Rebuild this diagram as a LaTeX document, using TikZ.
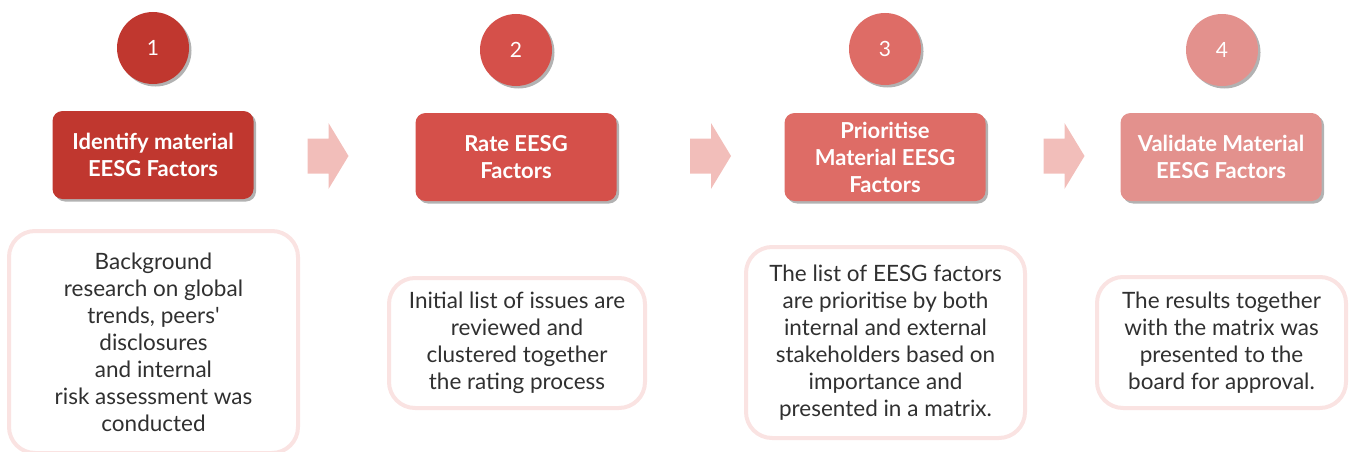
\documentclass[tikz,border=0pt]{standalone}
\usepackage{fontspec}
\setmainfont{Lato}
\usetikzlibrary{shadows}

% step palette, darkest first
\definecolor{stepA}{HTML}{C0372F}
\definecolor{stepB}{HTML}{D5504A}
\definecolor{stepC}{HTML}{DE6C66}
\definecolor{stepD}{HTML}{E3918D}
\definecolor{flowarrow}{HTML}{F2BEBA}
\definecolor{framepink}{HTML}{FAE3E2}
\definecolor{bodytext}{HTML}{303030}

\tikzset{
  softshadow/.style={drop shadow={shadow xshift=2.5pt, shadow yshift=-2.5pt, opacity=0.30, fill=black}},
  stepnum/.style={circle, minimum size=72pt, inner sep=0pt, text=white,
    font=\fontsize{21}{24}\selectfont, softshadow},
  stepbox/.style={rounded corners=10pt, minimum width=201pt, minimum height=88pt,
    inner sep=2pt, align=center, text=white,
    font=\bfseries\fontsize{22}{27}\selectfont, softshadow},
  descbox/.style={draw=framepink, line width=4pt, fill=white, rounded corners=26pt,
    align=center, text=bodytext, inner sep=0pt,
    font=\fontsize{22.5}{27}\selectfont},
  pics/flowarrow/.style={code={
    \fill[flowarrow] (-20,-17.5) -- (1,-17.5) -- (1,-33) -- (21,0) -- (1,33) -- (1,17.5) -- (-20,17.5) -- cycle;
  }}
}

\begin{document}
\begin{tikzpicture}[x=1pt, y=-1pt]
  \useasboundingbox (0,0) rectangle (1351,452);
  \clip (0,0) rectangle (1351,452);

  % numbered badges
  \node[stepnum, fill=stepA] (c1) at (153,48) {1};
  \node[stepnum, fill=stepB] (c2) at (516,50) {2};
  \node[stepnum, fill=stepC] (c3) at (885,49) {3};
  \node[stepnum, fill=stepD] (c4) at (1222,50) {4};

  % step titles
  \node[stepbox, fill=stepA] (s1) at (153,155) {Identify material\\EESG Factors};
  \node[stepbox, fill=stepB] (s2) at (516,157) {Rate EESG\\Factors};
  \node[stepbox, fill=stepC] (s3) at (885,157) {Prioritise\\Material EESG\\Factors};
  \node[stepbox, fill=stepD] (s4) at (1221,157) {Validate Material\\EESG Factors};

  % flow arrows between the steps
  \pic at (327.5,156) {flowarrow};
  \pic at (710,156) {flowarrow};
  \pic at (1063.5,156) {flowarrow};

  % descriptions
  \node[descbox, minimum width=289pt, minimum height=222pt] (d1) at (153.5,342)
    {Background\\research on global\\trends, peers\textquotesingle\\disclosures\\and internal\\risk assessment was\\conducted};
  \node[descbox, minimum width=256pt, minimum height=130pt] (d2) at (517,343)
    {Initial list of issues are\\reviewed and\\clustered together\\the rating process};
  \node[descbox, minimum width=279pt, minimum height=191pt] (d3) at (885.5,342.5)
    {The list of EESG factors\\are prioritise by both\\internal and external\\stakeholders based on\\importance and\\presented in a matrix.};
  \node[descbox, minimum width=249pt, minimum height=131pt] (d4) at (1221.5,342.5)
    {The results together\\with the matrix was\\presented to the\\board for approval.};
\end{tikzpicture}
\end{document}
